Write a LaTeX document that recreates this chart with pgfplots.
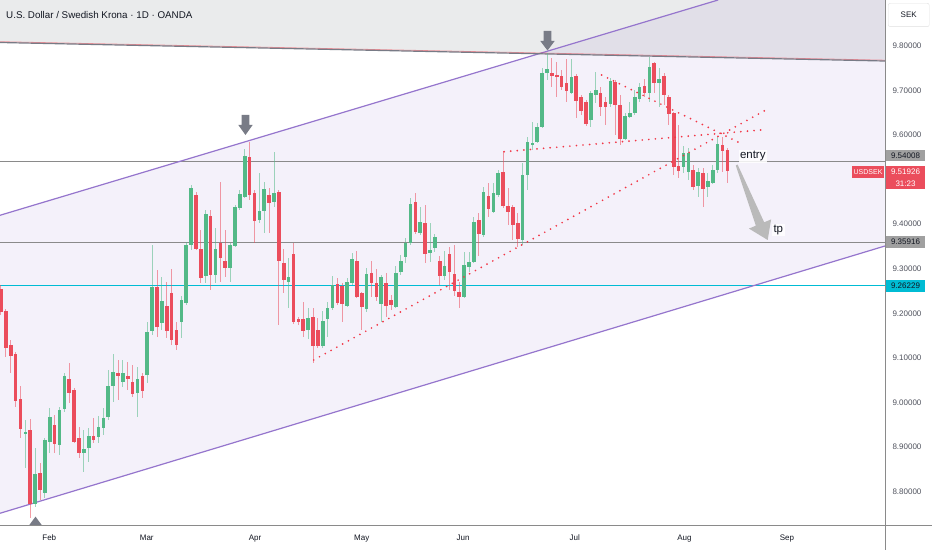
\documentclass[border=0pt]{standalone}
\usepackage{fontspec}
\setmainfont{Liberation Sans}
\usepackage{pgfplots}
\usepackage{pgfplotstable}
\pgfplotsset{compat=1.18}
\definecolor{upc}{HTML}{53B987}
\definecolor{dnc}{HTML}{EB4D5C}
\definecolor{chan}{HTML}{F4F1FA}
\definecolor{purp}{HTML}{9575CD}
\definecolor{tvgray}{HTML}{787B86}
\definecolor{hgray}{HTML}{8A8A8A}
\definecolor{taggray}{HTML}{A0A0A0}
\definecolor{tvcyan}{HTML}{00BCD4}
\definecolor{tvred}{HTML}{F23645}
\definecolor{txt}{HTML}{131722}
\definecolor{ticktxt}{HTML}{50535E}
\definecolor{axc}{HTML}{8A8A8A}
\newcommand\tf{\fontsize{8}{9.6}\selectfont}

\pgfplotstableread{
i O H L C
5 8.9295 8.9609 8.8532 8.9340
7 8.7725 8.8981 8.7658 8.8398
9 8.7972 8.9205 8.7860 8.9160
10 8.9115 8.9878 8.8869 8.9676
12 8.9048 8.9900 8.8824 8.9833
13 8.9855 9.0662 8.9788 9.0595
17 8.8869 8.9384 8.8443 8.8958
18 8.8981 8.9429 8.8667 8.9250
20 8.9227 8.9698 8.9093 8.9452
21 8.9429 8.9878 8.9272 8.9653
22 8.9676 9.0730 8.9609 9.0371
23 9.0371 9.1088 9.0012 9.0685
25 9.0461 9.0954 9.0348 9.0662
28 9.0214 9.0797 8.9676 9.0528
30 9.0617 9.1806 9.0438 9.1582
31 9.1604 9.3532 9.1514 9.2590
33 9.1783 9.2815 9.1626 9.2277
37 9.1806 9.2389 9.1447 9.2299
38 9.2232 9.3599 9.2187 9.3532
39 9.3532 9.4877 9.3420 9.4810
42 9.2837 9.4317 9.2680 9.4227
44 9.2859 9.3913 9.2680 9.3442
47 9.3016 9.3577 9.2703 9.3532
48 9.3510 9.4429 9.3487 9.4384
49 9.4362 9.4765 9.4317 9.4676
50 9.4608 9.5684 9.4586 9.5527
53 9.4093 9.5146 9.4025 9.4294
54 9.4294 9.4945 9.3801 9.4788
56 9.4496 9.5617 9.4384 9.4698
59 9.2703 9.3241 9.2120 9.2815
63 9.1626 9.2120 9.1425 9.1895
66 9.1268 9.2052 9.1223 9.1828
67 9.1873 9.2254 9.1469 9.2120
68 9.2120 9.2837 9.2075 9.2635
71 9.2164 9.2792 9.2142 9.2703
72 9.2680 9.3353 9.2635 9.3218
75 9.2097 9.3016 9.2030 9.2882
78 9.2209 9.2859 9.1806 9.2815
81 9.2142 9.3061 9.2120 9.2904
82 9.2927 9.3308 9.2859 9.3173
83 9.3263 9.3689 9.3129 9.3577
84 9.3577 9.4586 9.3532 9.4451
86 9.3801 9.4384 9.3756 9.4048
88 9.3353 9.4025 9.3151 9.3420
89 9.3465 9.3779 9.3375 9.3711
91 9.2837 9.3398 9.2747 9.3061
95 9.2366 9.3375 9.2344 9.3084
96 9.3039 9.3375 9.2927 9.3151
97 9.3151 9.4160 9.3129 9.4048
99 9.3756 9.4832 9.3711 9.4720
101 9.4272 9.4922 9.4250 9.4698
102 9.4653 9.5214 9.4608 9.5146
107 9.3644 9.5371 9.3532 9.5101
108 9.5101 9.5953 9.4765 9.5841
109 9.5774 9.6290 9.5662 9.5819
110 9.5841 9.6267 9.5819 9.6178
111 9.6178 9.7500 9.6155 9.7388
112 9.7388 9.7837 9.7231 9.7478
117 9.6940 9.7702 9.6918 9.7299
121 9.6335 9.6985 9.6178 9.6940
122 9.6895 9.7411 9.6716 9.7007
125 9.6693 9.7276 9.6626 9.7209
128 9.5909 9.6492 9.5886 9.6424
129 9.6402 9.6738 9.6379 9.6492
130 9.6492 9.7007 9.6447 9.6850
131 9.6805 9.7164 9.6738 9.7074
133 9.6940 9.7747 9.6738 9.7523
135 9.7164 9.7500 9.6626 9.7254
140 9.5281 9.5752 9.5146 9.5595
141 9.5169 9.5707 9.4989 9.5595
143 9.4855 9.5258 9.4608 9.5169
145 9.4832 9.5146 9.4608 9.4967
146 9.4922 9.5326 9.4900 9.5214
147 9.5214 9.5953 9.5146 9.5797
}\up

\pgfplotstableread{
i O H L C
0 9.2546 9.2635 9.1963 9.2030
1 9.2052 9.2097 9.1021 9.1223
2 9.1290 9.1402 9.0662 9.1043
3 9.1088 9.1133 8.9900 9.0035
4 9.0079 9.0371 8.9205 8.9407
6 8.9384 8.9631 8.7411 8.7725
8 8.8420 8.8645 8.7815 8.8039
11 8.9496 8.9721 8.8869 8.9071
14 9.0528 9.0887 8.9990 9.0214
15 9.0281 9.0326 8.9093 8.9115
16 8.9205 8.9452 8.8757 8.8869
19 8.9250 8.9653 8.9093 8.9160
24 9.0662 9.0954 9.0057 9.0595
26 9.0595 9.0909 9.0281 9.0528
27 9.0461 9.0842 9.0124 9.0192
29 9.0595 9.0662 9.0102 9.0259
32 9.2590 9.2972 9.1469 9.1694
34 9.2164 9.2703 9.1447 9.1604
35 9.2456 9.2994 9.1290 9.1402
36 9.1626 9.1806 9.1178 9.1290
40 9.4653 9.4720 9.3420 9.3442
41 9.3442 9.3868 9.2680 9.2792
43 9.4182 9.4317 9.2523 9.2859
45 9.3577 9.4945 9.2703 9.3241
46 9.3173 9.3868 9.2815 9.3016
51 9.5505 9.5841 9.4541 9.4653
52 9.4698 9.4765 9.3577 9.4070
55 9.4653 9.4810 9.3801 9.4474
57 9.4720 9.4765 9.1738 9.3173
58 9.3129 9.3442 9.2456 9.2747
60 9.3330 9.3577 9.1761 9.1806
61 9.1873 9.1918 9.1738 9.1806
62 9.1873 9.2254 9.1469 9.1604
64 9.1918 9.2120 9.0887 9.1268
65 9.1626 9.1895 9.1223 9.1268
69 9.2658 9.2792 9.2187 9.2232
70 9.2613 9.2680 9.1806 9.2209
73 9.3173 9.3398 9.2344 9.2366
74 9.2456 9.2478 9.1626 9.2142
76 9.2904 9.3173 9.2366 9.2680
77 9.2680 9.2994 9.2277 9.2366
79 9.2680 9.2904 9.1918 9.2164
80 9.2299 9.2411 9.2075 9.2187
85 9.4496 9.4698 9.3779 9.3824
87 9.4025 9.4429 9.3129 9.3330
90 9.3173 9.3285 9.2635 9.2837
92 9.3330 9.3487 9.2523 9.2927
93 9.2882 9.3532 9.2389 9.2501
94 9.2478 9.2703 9.2120 9.2366
98 9.4093 9.4250 9.3285 9.3779
100 9.4631 9.4922 9.4160 9.4339
103 9.5169 9.5640 9.4362 9.4406
104 9.4406 9.4810 9.3980 9.4272
105 9.4384 9.4429 9.3644 9.3980
106 9.4025 9.4250 9.3487 9.3667
113 9.7388 9.7725 9.7074 9.7321
114 9.7343 9.7635 9.6850 9.7299
115 9.7321 9.7456 9.7007 9.7074
116 9.7164 9.7702 9.6738 9.6985
118 9.7321 9.7366 9.6379 9.6761
119 9.6850 9.6895 9.6447 9.6536
120 9.6738 9.6783 9.6200 9.6245
123 9.6940 9.7074 9.6424 9.6626
124 9.6738 9.6850 9.6222 9.6626
126 9.7187 9.7231 9.5998 9.6671
127 9.6671 9.6895 9.5774 9.5909
132 9.7097 9.7254 9.6850 9.6940
134 9.7613 9.7635 9.6940 9.7164
136 9.7321 9.7388 9.6671 9.6895
137 9.6850 9.6895 9.6222 9.6469
138 9.6492 9.6514 9.5101 9.5281
139 9.5303 9.6222 9.5034 9.5191
142 9.5214 9.5326 9.4765 9.4832
144 9.5146 9.5258 9.4384 9.4788
148 9.5774 9.5953 9.5169 9.5640
149 9.5662 9.5707 9.4922 9.5193
}\dn

\pgfplotsset{candle/.style={only marks, mark=*, mark size=0.01pt,
  mark options={draw opacity=0, fill opacity=0}, forget plot,
  error bars/.cd, y dir=both, y explicit, error mark=none}}

\begin{document}
\begin{tikzpicture}
\fill[white] (0pt,-25pt) rectangle (932pt,525pt);
\begin{axis}[
  at={(0pt,0pt)}, anchor=south west,
  scale only axis, width=885pt, height=525pt,
  xmin=-0.205, xmax=181.33, ymin=8.7254, ymax=9.9025,
  clip=false,
  axis line style={draw=none},
  major tick length=0pt,
  tick style={draw=none},
  xtick={9.9,29.9,52.1,74.0,94.8,117.7,140.2,161.2},
  xticklabels={Feb,Mar,Apr,May,Jun,Jul,Aug,Sep},
  xticklabel style={font=\tf, text=txt, inner sep=0pt, anchor=base, yshift=-15.3pt},
  ytick={8.8,8.9,9.0,9.1,9.2,9.3,9.4,9.6,9.7,9.8},
  yticklabel pos=right,
  yticklabel style={font=\tf, text=ticktxt, inner sep=0pt, anchor=west, xshift=7.3pt,
    /pgf/number format/fixed, /pgf/number format/fixed zerofill,
    /pgf/number format/precision=5, /pgf/number format/assume math mode=true},
]
% channel fill
\addplot[fill=chan, draw=none, forget plot] coordinates {(-0.205,8.7517) (181.33,9.3510) (181.33,9.9025) (147.1,9.9025) (-0.205,9.4198)} -- cycle;
% gray zone above the falling line
\addplot[fill=tvgray, fill opacity=0.15, draw=none, forget plot] coordinates {(-0.205,9.8072) (181.33,9.7657) (181.33,9.9025) (-0.205,9.9025)} -- cycle;
% horizontal levels
\addplot[hgray, line width=1.3pt, forget plot] coordinates {(-0.205,9.54008) (181.33,9.54008)};
\addplot[hgray, line width=1.3pt, forget plot] coordinates {(-0.205,9.35916) (181.33,9.35916)};
\addplot[tvcyan, line width=1.3pt, forget plot] coordinates {(-0.205,9.26229) (181.33,9.26229)};
% channel lines
\addplot[purp, line width=1.2pt, forget plot] coordinates {(-0.205,9.4198) (147.1,9.9025)};
\addplot[purp, line width=1.2pt, forget plot] coordinates {(-0.205,8.7517) (181.33,9.3510)};
% falling line
\addplot[tvred, line width=0.8pt, opacity=0.5, forget plot] coordinates {(-0.205,9.8090) (181.33,9.7675)};
\addplot[tvgray, line width=1.2pt, forget plot] coordinates {(-0.205,9.8072) (181.33,9.7657)};
% wicks
\addplot[candle, error bar style={line width=1pt, draw=upc, draw opacity=0.55}]
  table[x=i, y expr={(\thisrow{H}+\thisrow{L})/2}, y error expr={(\thisrow{H}-\thisrow{L})/2}] {\up};
\addplot[candle, error bar style={line width=1pt, draw=dnc, draw opacity=0.55}]
  table[x=i, y expr={(\thisrow{H}+\thisrow{L})/2}, y error expr={(\thisrow{H}-\thisrow{L})/2}] {\dn};
% bodies
\addplot[candle, error bar style={line width=3.6pt, draw=upc}]
  table[x=i, y expr={(\thisrow{O}+\thisrow{C})/2}, y error expr={max(abs(\thisrow{C}-\thisrow{O})/2,0.0012)}] {\up};
\addplot[candle, error bar style={line width=3.6pt, draw=dnc}]
  table[x=i, y expr={(\thisrow{O}+\thisrow{C})/2}, y error expr={max(abs(\thisrow{C}-\thisrow{O})/2,0.0012)}] {\dn};
% dotted trend lines
\addplot[tvred, line width=1.9pt, line cap=round, dash pattern=on 0pt off 6.6pt, forget plot] coordinates {(64.15,9.0954) (156.7,9.6548)};
\addplot[tvred, line width=1.9pt, line cap=round, dash pattern=on 0pt off 6.6pt, forget plot] coordinates {(103.2,9.5624) (157.1,9.6122)};
\addplot[tvred, line width=1.9pt, line cap=round, dash pattern=on 0pt off 6.6pt, forget plot] coordinates {(123.2,9.7343) (152.0,9.5797)};
% marker arrows
\addplot[fill=tvgray, draw=none, forget plot] coordinates {(49.36,9.6447) (50.94,9.6447) (50.94,9.6223) (51.62,9.6223) (50.15,9.5998) (48.68,9.6223) (49.36,9.6223)} -- cycle;
\addplot[fill=tvgray, draw=none, forget plot] coordinates {(111.31,9.8330) (112.89,9.8330) (112.89,9.8106) (113.57,9.8106) (112.1,9.7893) (110.63,9.8106) (111.31,9.8106)} -- cycle;
\addplot[fill=tvgray, draw=none, forget plot] coordinates {(5.81,8.7254) (8.35,8.7254) (7.08,8.7441)} -- cycle;
% projection arrow
\addplot[fill=black!27, draw=none, forget plot] coordinates {(150.72,9.5317) (151.10,9.5335) (156.55,9.4041) (157.97,9.4106) (157.27,9.3644) (153.42,9.3900) (154.83,9.3965)} -- cycle;
% frame lines
\addplot[axc, line width=1pt, forget plot] coordinates {(-0.205,8.7254) (190.97,8.7254)};
\addplot[axc, line width=1pt, forget plot] coordinates {(181.33,8.6694) (181.33,9.9025)};
% text labels
\node[anchor=base west, inner sep=0pt, text=txt, font=\fontsize{9.8}{11}\selectfont] at (axis cs:1.026,9.8615) {U.S. Dollar / Swedish Krona · 1D · OANDA};
\node[fill=white, fill opacity=0.85, text opacity=1, inner sep=1.5pt, text=txt, font=\fontsize{11.5}{13}\selectfont] at (axis cs:154.21,9.5523) {entry};
\node[fill=white, fill opacity=0.85, text opacity=1, inner sep=1.5pt, text=txt, font=\fontsize{11.5}{13}\selectfont] at (axis cs:159.45,9.3868) {tp};
% price tags
\node[fill=white, draw=black!12, rounded corners=2pt, minimum width=41pt, minimum height=23.4pt, inner sep=0pt, text=txt, font=\tf] at (axis cs:186.2,9.8689) {SEK};
\node[fill=taggray, minimum width=39pt, minimum height=11pt, inner sep=0pt, text=txt, font=\tf] at (axis cs:185.54,9.5534) {9.54008};
\node[fill=dnc, minimum width=32.6pt, minimum height=12pt, inner sep=0pt, text=white, font=\fontsize{7}{8}\selectfont] at (axis cs:177.85,9.5176) {USDSEK};
\node[fill=dnc, minimum width=39pt, minimum height=23.6pt, inner sep=0pt] at (axis cs:185.54,9.5045) {};
\node[inner sep=0pt, text=white, font=\tf] at (axis cs:185.54,9.5169) {9.51926};
\node[inner sep=0pt, text=white, font=\tf] at (axis cs:185.54,9.4911) {31:23};
\node[fill=taggray, minimum width=39pt, minimum height=12pt, inner sep=0pt, text=txt, font=\tf] at (axis cs:185.54,9.3595) {9.35916};
\node[fill=tvcyan, minimum width=39pt, minimum height=11.7pt, inner sep=0pt, text=txt, font=\tf] at (axis cs:185.54,9.2617) {9.26229};
\end{axis}
\pgfresetboundingbox
\useasboundingbox (0pt,-25pt) rectangle (932pt,525pt);
\end{tikzpicture}
\end{document}
